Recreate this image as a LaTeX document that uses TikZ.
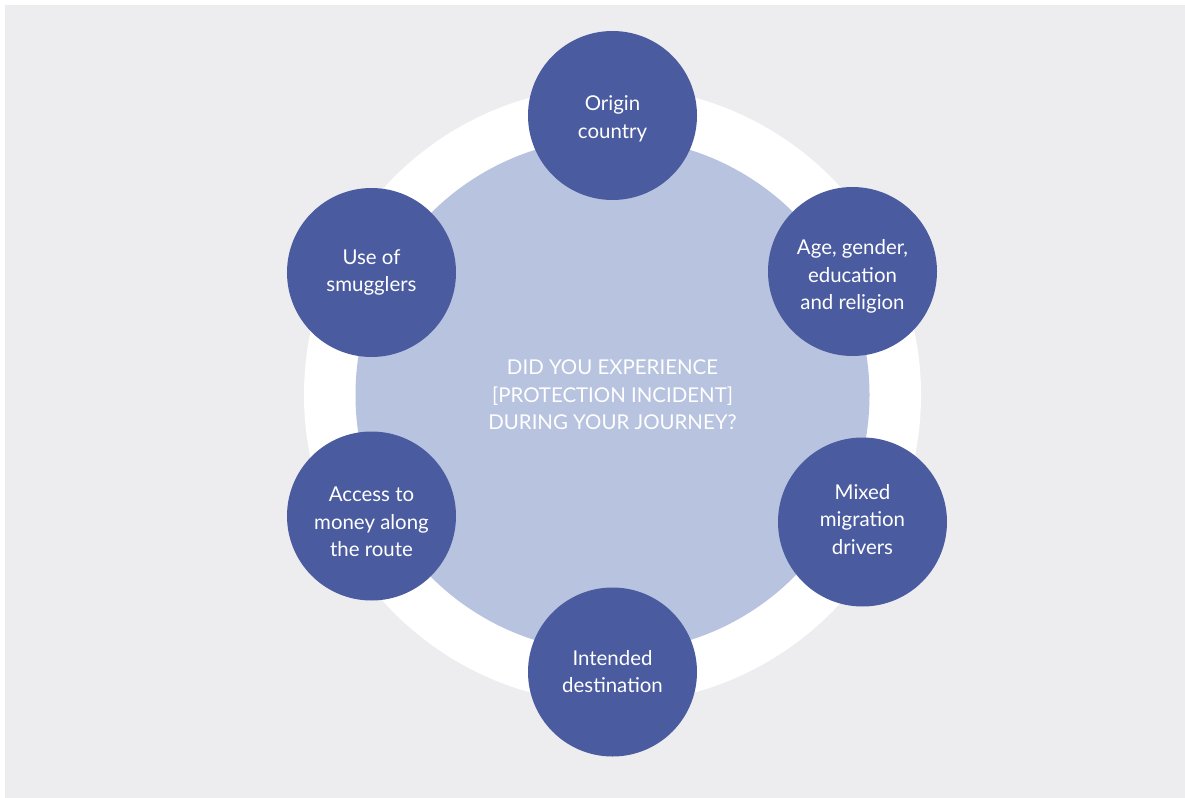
\documentclass[tikz,border=0pt]{standalone}
\usepackage{fontspec}
\setmainfont{Lato}
\definecolor{pagebg}{HTML}{EDEDF0}
\definecolor{hubfill}{HTML}{B7C3DF}
\definecolor{spokefill}{HTML}{4A5BA0}
\begin{document}
\begin{tikzpicture}[x=1bp,y=-1bp,
  spoke/.style={circle,fill=spokefill,minimum size=169bp,inner sep=0pt},
  hub/.style={circle,fill=hubfill,minimum size=514bp,inner sep=0pt},
  ring/.style={circle,fill=white,minimum size=617bp,inner sep=0pt},
  caption/.style={text=white,align=center,inner sep=0pt,
    font=\fontsize{20.5}{27.5}\selectfont}]
  \useasboundingbox (0,0) rectangle (1185,798);
  \fill[white] (0,0) rectangle (1185,798);
  \fill[pagebg] (5,5) rectangle (1185,798);
  % white ring behind the central question
  \node[ring] (ring) at (612.5,395) {};
  \node[hub] (hub) at (612.5,395) {};
  \node[caption] (hubtext) at (612.5,395) {DID YOU EXPERIENCE\\{}[PROTECTION INCIDENT]\\DURING YOUR JOURNEY?};
  % surrounding factors
  \node[spoke] (origin) at (612.5,115.5) {};
  \node[spoke] (age) at (852.5,271.5) {};
  \node[spoke] (mixed) at (862.5,522) {};
  \node[spoke] (dest) at (612.5,672) {};
  \node[spoke] (money) at (371.5,516) {};
  \node[spoke] (smug) at (371.5,272.5) {};
  % captions; yshift works in page units, so negative values move text down
  \node[caption] (origintext) at ([yshift=-3.5bp]origin) {Origin\\country};
  \node[caption] (agetext) at ([yshift=-5bp]age) {Age, gender,\\education\\and religion};
  \node[caption] (mixedtext) at ([yshift=2.5bp]mixed) {Mixed\\migration\\drivers};
  \node[caption] (desttext) at ([yshift=0.5bp]dest) {Intended\\destination};
  \node[caption] (moneytext) at ([yshift=-6bp]money) {Access to\\money along\\the route};
  \node[caption] (smugtext) at (smug) {Use of\\smugglers};
\end{tikzpicture}
\end{document}
